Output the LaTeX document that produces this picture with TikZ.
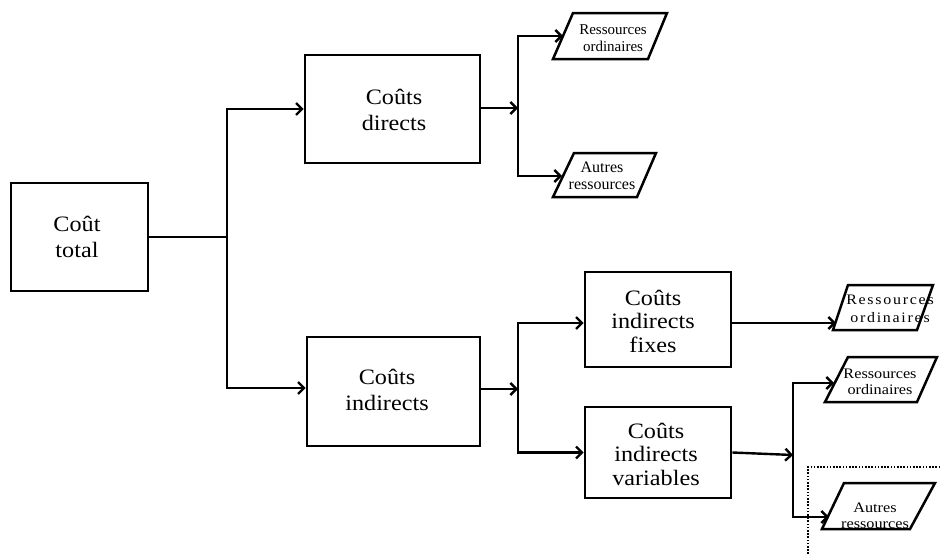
\documentclass[tikz,border=0pt]{standalone}
\usepackage{fontspec}
\setmainfont{Liberation Serif}[FakeStretch=1.1]
\newfontfamily\smallf{Liberation Serif}[FakeStretch=1.12]
\newfontfamily\plainf{Liberation Serif}
\newfontfamily\widef{Liberation Serif}[FakeStretch=1.1,LetterSpace=12]
\usetikzlibrary{arrows.meta}
\tikzset{
  box/.style={draw,line width=2.6pt,inner sep=0pt,align=center},
  bigtxt/.style={font=\fontsize{22}{26}\selectfont},
  threetxt/.style={font=\fontsize{22}{23.5}\selectfont},
  smalltxt/.style={inner sep=0pt,align=center,font=\smallf\fontsize{14.5}{16.5}\selectfont},
  conn/.style={line width=2.4pt},
  arr/.style={line width=2.4pt,-{Straight Barb[length=6pt,width=12pt]}},
  paraline/.style={line width=2.5pt,line join=miter},
  dotline/.style={line width=1.5pt,dash pattern=on 1.6pt off 1.6pt}
}
\begin{document}
\begin{tikzpicture}[x=1pt,y=-1pt]
\useasboundingbox (0,0) rectangle (940,554);
% main boxes
\node[box,minimum width=137pt,minimum height=108pt] (total) at (79.5,237) {};
\node[bigtxt,align=center] (totaltxt) at (77,237) {Coût\\total};
\node[box,minimum width=175pt,minimum height=108pt] (directs) at (392.5,109) {};
\node[bigtxt,align=center] (directstxt) at (394,110) {Coûts\\directs};
\node[box,minimum width=173pt,minimum height=109pt] (indirects) at (393.5,391.5) {};
\node[bigtxt,align=center] (indirectstxt) at (387,390) {Coûts\\indirects};
\node[box,minimum width=146pt,minimum height=95pt] (fixes) at (658,319.5) {};
\node[threetxt,align=center] (fixestxt) at (653,321) {Coûts\\indirects\\fixes};
\node[box,minimum width=146pt,minimum height=91pt] (variables) at (658,452.5) {};
\node[threetxt,align=center] (variablestxt) at (656,454) {Coûts\\indirects\\variables};
% parallelograms
\draw[paraline] (573,13) -- (667,13) -- (648,59) -- (553,59) -- cycle;
\node[smalltxt,font=\plainf\fontsize{15}{17}\selectfont] (p1) at (613,38) {Ressources\\ordinaires};
\draw[paraline] (574,153) -- (656,153) -- (637,197) -- (553,197) -- cycle;
\node[smalltxt,font=\plainf\fontsize{16}{17}\selectfont] (p2) at (602,176) {Autres\\ressources};
\draw[paraline] (848,285) -- (933,285) -- (917,330) -- (833,330) -- cycle;
\node[smalltxt,font=\widef\fontsize{14.5}{18}\selectfont] (p3) at (890,309) {Ressources\\ordinaires};
\draw[paraline] (848,357) -- (937,357) -- (917,402) -- (825,402) -- cycle;
\node[smalltxt] (p4) at (880,382) {Ressources\\ordinaires};
\draw[paraline] (844,483) -- (935,483) -- (910,529) -- (822,529) -- cycle;
\node[smalltxt] (p5) at (875,516) {Autres\\ressources};
% junction coordinates
\coordinate (j1) at (227,237);
\coordinate (j2) at (518,108);
\coordinate (j3) at (518,389);
\coordinate (j4) at (793,455);
\coordinate (p1in) at (563,36);
\coordinate (p2in) at (562,176);
\coordinate (p3in) at (836,323);
\coordinate (p4in) at (834,383);
\coordinate (p5in) at (829,517);
% connectors
\draw[conn] (total.east |- j1) -- (j1);
\draw[arr] (j1) |- (directs.west);
\draw[arr] (j1) |- (indirects.west |- 0,388);
\draw[arr] (directs.east |- j2) -- (j2);
\draw[arr] (j2) |- (p1in);
\draw[arr] (j2) |- (p2in);
\draw[arr] (indirects.east |- j3) -- (j3);
\draw[arr] (j3) |- (fixes.west |- 0,323);
\draw[arr] (j3) |- (variables.west);
\draw[arr] (fixes.east |- p3in) -- (p3in);
\draw[arr] (variables.east) -- (j4);
\draw[arr] (j4) |- (p4in);
\draw[arr] (j4) |- (p5in);
% dotted frame
\draw[dotline] (808,554) -- (808,467) -- (940,467);
\end{tikzpicture}
\end{document}
